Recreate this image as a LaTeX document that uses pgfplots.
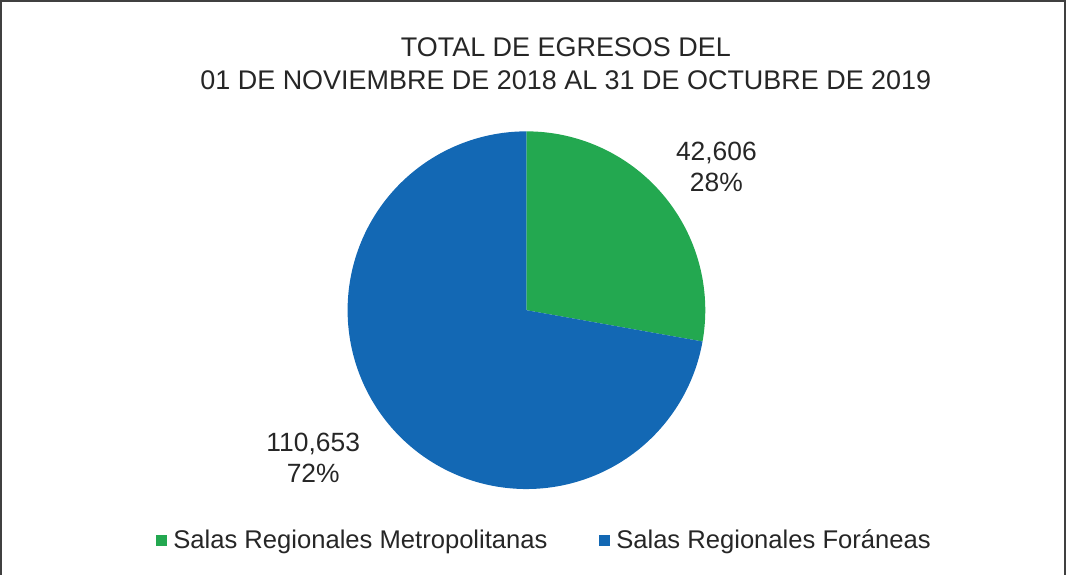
\documentclass[border=0pt]{standalone}
\usepackage{fontspec}
\setmainfont{Liberation Sans}
\usepackage{pgfplots}
\pgfplotsset{compat=1.18}
\definecolor{metro}{RGB}{35,168,80}
\definecolor{fora}{RGB}{19,104,180}
% data
\def\vMetro{42606}
\def\vFora{110653}
\edef\aSplit{\fpeval{round(90-360*\vMetro/(\vMetro+\vFora),3)}}
\begin{document}
\begin{tikzpicture}
\begin{axis}[width=799.5pt,height=430.5pt,scale only axis,
 xmin=0,xmax=1066,ymin=0,ymax=574,axis lines=none,clip=false,
 legend columns=2,
 legend style={at={(axis cs:545,34)},anchor=center,draw=none,fill=none,
  font=\fontsize{19}{21}\selectfont,text=black!85,inner sep=0pt,
  /tikz/every odd column/.append style={column sep=3pt},
  /tikz/every even column/.append style={column sep=36pt}},
 legend image code/.code={\fill[#1] (0pt,-4pt) rectangle (8pt,4pt);}]
\addplot[fill=metro,draw=none,domain=90:\aSplit,samples=120]
 ({527+177*cos(x)},{262+177*sin(x)}) -- (axis cs:527,262) -- cycle;
\addlegendentry{Salas Regionales Metropolitanas}
\addplot[fill=fora,draw=none,domain=\aSplit:-270,samples=200]
 ({527+177*cos(x)},{262+177*sin(x)}) -- (axis cs:527,262) -- cycle;
\addlegendentry{Salas Regionales Foráneas}
\draw[line width=1.5pt,black!75] (axis cs:7,0) -- (axis cs:7,568) -- (axis cs:1060,568) -- (axis cs:1060,0);
\node[align=center,font=\fontsize{20}{24}\selectfont,text=black!85] at (axis cs:566,506)
 {TOTAL DE EGRESOS DEL\\01 DE NOVIEMBRE DE 2018 AL 31 DE OCTUBRE DE 2019};
\node[align=center,font=\fontsize{19.6}{23}\selectfont,text=black!85] at (axis cs:715,404) {42,606\\28\%};
\node[align=center,font=\fontsize{19.6}{23}\selectfont,text=black!85] at (axis cs:316,116) {110,653\\72\%};
\end{axis}
\end{tikzpicture}
\end{document}
